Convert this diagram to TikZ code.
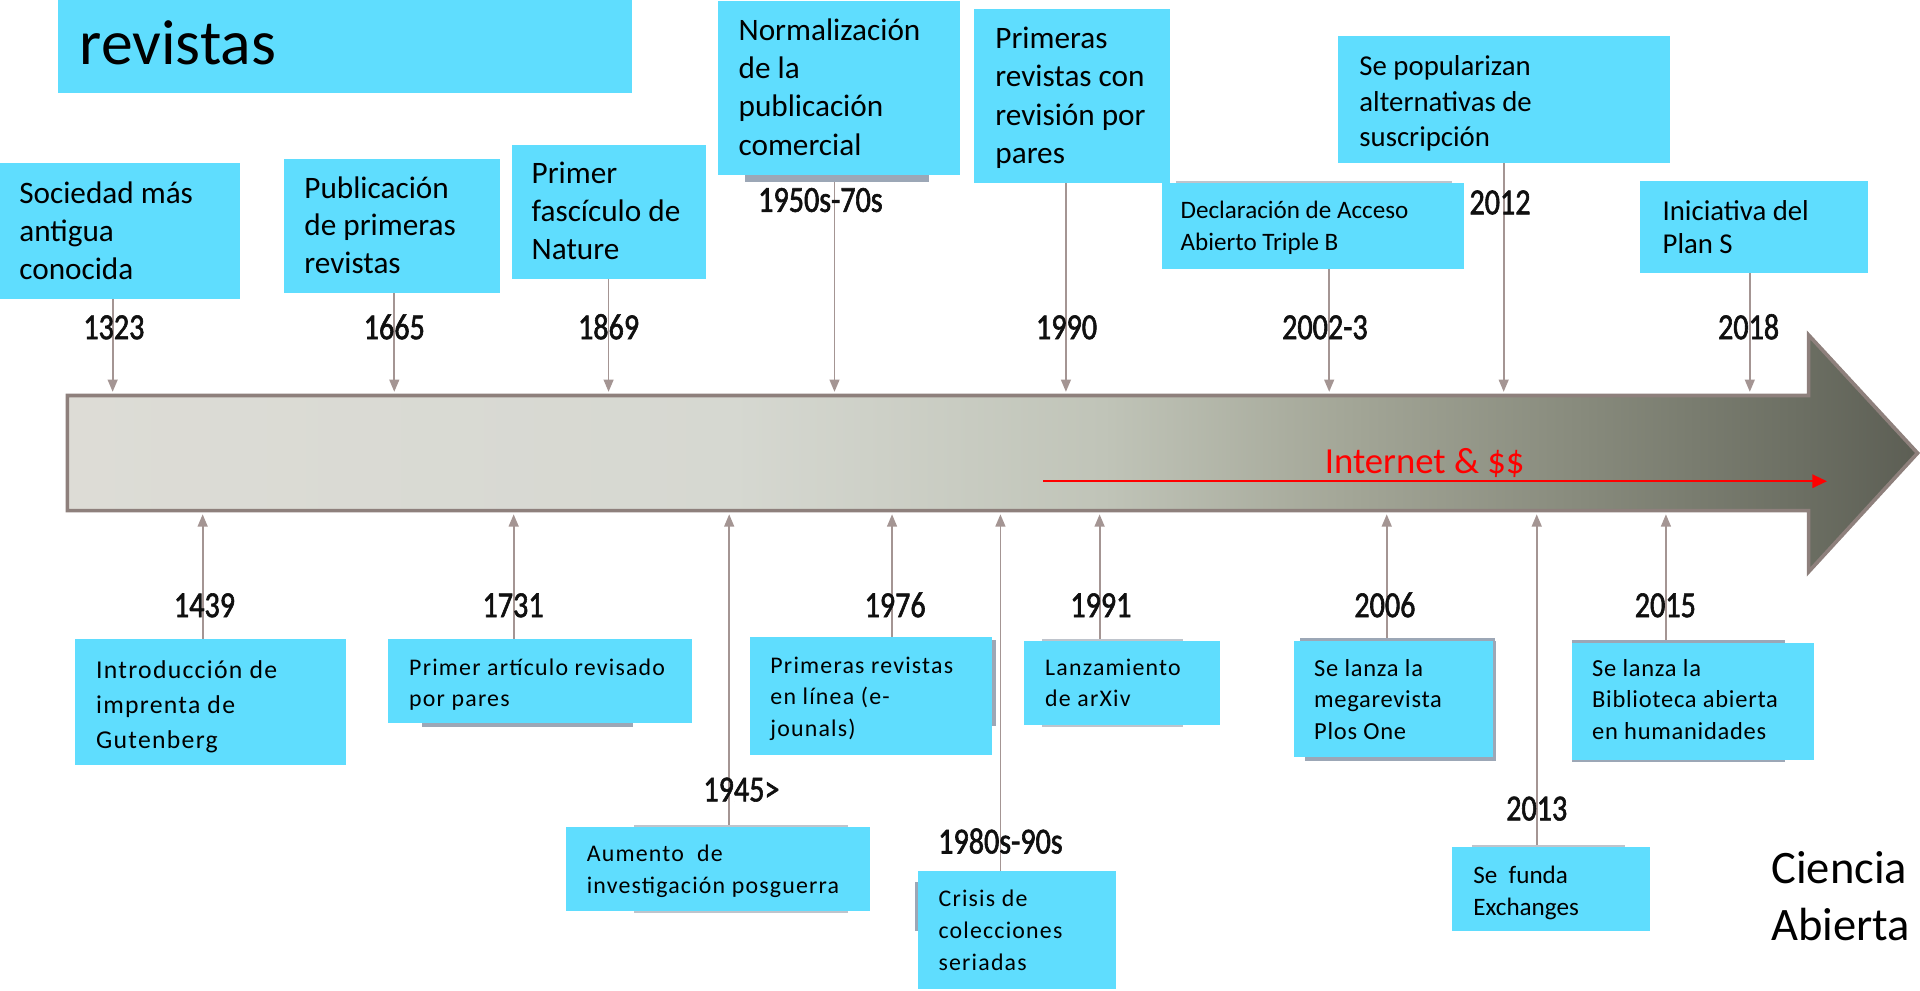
\documentclass[tikz,border=0pt]{standalone}
\usepackage{fontspec}
\setmainfont{Carlito}
\newfontfamily\yearfont[FakeStretch=0.82,FakeBold=1.6]{Carlito}
\newfontfamily\spfont[LetterSpace=5]{Carlito}
\newfontfamily\spfontb[LetterSpace=3]{Carlito}
\usetikzlibrary{arrows.meta,fit}
\definecolor{cy}{HTML}{5FDDFE}
\definecolor{connc}{HTML}{A49593}
\definecolor{shd}{HTML}{9CA7B6}
\definecolor{shdl}{HTML}{BFC4CC}
\definecolor{bord}{HTML}{8E807C}
\definecolor{yk}{HTML}{101010}
\definecolor{g0}{HTML}{DDDCD6}
\definecolor{g1}{HTML}{D6D8D1}
\definecolor{g2}{HTML}{C0C4B8}
\definecolor{g3}{HTML}{A3A697}
\definecolor{g4}{HTML}{878A7C}
\definecolor{g5}{HTML}{6C6F63}
\definecolor{g6}{HTML}{5C5E54}
\pgfdeclarehorizontalshading{tl}{100bp}{color(0bp)=(g0); color(25bp)=(g0); color(43bp)=(g1); color(53bp)=(g2); color(59.6bp)=(g3); color(66bp)=(g4); color(71.8bp)=(g5); color(75bp)=(g6); color(100bp)=(g6)}
\newcommand{\bt}[3]{\fontsize{#1}{#2}\selectfont\begin{tabular}[t]{@{}l@{}}#3\end{tabular}}
\tikzset{
  cbox/.style={fill=cy, inner sep=0pt, draw=none},
  sbar/.style={fill=shd, draw=none},
  sbarl/.style={fill=shdl, draw=none},
  bt/.style={anchor=base west, inner sep=0pt, text=black},
  yl/.style={anchor=base, inner sep=0pt, text=yk, font=\yearfont\fontsize{30}{36}\selectfont},
  connl/.style={draw=connc, line width=1.5pt, -{Triangle[length=10pt,width=8pt]}},
}
\begin{document}
\begin{tikzpicture}[x=1pt,y=-1pt]
\useasboundingbox (0,0) rectangle (1568,809.3);

% main timeline arrow
\shade[shading=tl, draw=bord, line width=3pt, line join=miter]
  (55,323) -- (1477,323) -- (1477,273.6) -- (1566,370) -- (1477,467) -- (1477,417) -- (55,417) -- cycle;

% arrow tips on the timeline
\coordinate (c1323) at (92,320);
\coordinate (c1665) at (322,320);
\coordinate (c1869) at (497,320);
\coordinate (c1950) at (681.5,320);
\coordinate (c1990) at (870.5,320);
\coordinate (c2002) at (1085.5,320);
\coordinate (c2012) at (1228,320);
\coordinate (c2018) at (1429,320);
\coordinate (c1439) at (165.5,420);
\coordinate (c1731) at (419.5,420);
\coordinate (c1945) at (595.5,420);
\coordinate (c1976) at (728.5,420);
\coordinate (c1980) at (817,420);
\coordinate (c1991) at (898,420);
\coordinate (c2006) at (1132.5,420);
\coordinate (c2013) at (1255,420);
\coordinate (c2015) at (1360.5,420);

% boxes
\node[fit={(47.5,0) (516,75.7)}, cbox] (title) {};
\node[fit={(0,133) (196,244)}, cbox] (soc) {};
\node[fit={(232,130) (408,239)}, cbox] (pub) {};
\node[fit={(418,118.4) (576.4,227.3)}, cbox] (nat) {};
\node[fit={(586.4,1) (784,142.6)}, cbox] (nor) {};
\node[fit={(795.3,7.3) (955.5,149.2)}, cbox] (rev) {};
\node[fit={(949,149.5) (1195.3,219.4)}, cbox] (dec) {};
\node[fit={(1092.8,30) (1363.7,133)}, cbox] (sus) {};
\node[fit={(1339.5,147.8) (1525.2,222.7)}, cbox] (pls) {};

\node[fit={(61.7,521.9) (282.3,624.3)}, cbox] (gut) {};
\node[fit={(317.3,521.9) (565,590.2)}, cbox] (art) {};
\node[fit={(612.5,520.6) (810,616)}, cbox] (lin) {};
\node[fit={(462.3,675.7) (710.2,743.8)}, cbox] (aum) {};
\node[fit={(749.7,711.4) (911,807.2)}, cbox] (cri) {};
\node[fit={(836.3,523.5) (995.9,591.6)}, cbox] (arx) {};
\node[fit={(1056.7,523.5) (1218.8,618)}, cbox] (plo) {};
\node[fit={(1283.8,524.9) (1481.4,620.2)}, cbox] (bib) {};
\node[fit={(1185.8,691.8) (1347.4,760)}, cbox] (exc) {};

% connectors
\draw[connl] (soc.south -| c1323) -- (c1323);
\draw[connl] (pub.south -| c1665) -- (c1665);
\draw[connl] (nat.south -| c1869) -- (c1869);
\draw[connl] (nor.south -| c1950) -- (c1950);
\draw[connl] (rev.south -| c1990) -- (c1990);
\draw[connl] (dec.south -| c2002) -- (c2002);
\draw[connl] (sus.south -| c2012) -- (c2012);
\draw[connl] (pls.south -| c2018) -- (c2018);
\draw[connl] (gut.north -| c1439) -- (c1439);
\draw[connl] (art.north -| c1731) -- (c1731);
\draw[connl] (aum.north -| c1945) -- (c1945);
\draw[connl] (lin.north -| c1976) -- (c1976);
\draw[connl] (cri.north -| c1980) -- (c1980);
\draw[connl] (arx.north -| c1991) -- (c1991);
\draw[connl] (plo.north -| c2006) -- (c2006);
\draw[connl] (exc.north -| c2013) -- (c2013);
\draw[connl] (bib.north -| c2015) -- (c2015);

% shadow bars
\fill[sbar] (608,142.6) rectangle (759,148.3);
\fill[sbarl] (960,147.5) rectangle (1186,149.5);
\fill[sbar] (345,590.2) rectangle (516.7,593.5);
\fill[sbar] (810,522.7) rectangle (813,593);
\fill[sbarl] (851,521.5) rectangle (966,523.5);
\fill[sbarl] (851,591.6) rectangle (966,593.5);
\fill[sbar] (1062,521) rectangle (1221,523.5);
\fill[sbar] (1218.8,523.5) rectangle (1221.8,621.5);
\fill[sbar] (1066,618) rectangle (1221.8,621.5);
\fill[sbar] (1284,522.5) rectangle (1458,524.9);
\fill[sbar] (1284,620.2) rectangle (1458,622.5);
\fill[sbarl] (517.7,674) rectangle (692.7,675.7);
\fill[sbarl] (517.7,743.8) rectangle (692.7,745.5);
\fill[sbar] (747.5,720) rectangle (749.7,760);
\fill[sbarl] (1202,690) rectangle (1327,691.8);

% redraw boxes on top of lines
\foreach \b in {title,soc,pub,nat,nor,rev,dec,sus,pls,gut,art,lin,aum,cri,arx,plo,bib,exc}
  \fill[cy] (\b.north west) rectangle (\b.south east);

% box texts
\node[bt] (titleT) at (65,53) {\fontsize{52}{60}\selectfont revistas};
\node[bt] (socT) at (15.6,166) {\bt{25.5}{31}{Sociedad más\\antigua\\conocida}};
\node[bt] (pubT) at (248.4,162) {\bt{25.5}{30.5}{Publicación\\de primeras\\revistas}};
\node[bt] (natT) at (434,149.7) {\bt{25.5}{31.3}{Primer\\fascículo de\\Nature}};
\node[bt] (norT) at (603,32.7) {\bt{25.5}{31.3}{Normalización\\de la\\publicación\\comercial}};
\node[bt] (revT) at (812.7,39.5) {\bt{25.5}{31.3}{Primeras\\revistas con\\revisión por\\pares}};
\node[bt] (decT) at (964,178.3) {\bt{20.5}{26}{Declaración de Acceso\\Abierto Triple B}};
\node[bt] (susT) at (1110,62) {\bt{23.5}{29}{Se popularizan\\alternativas de\\suscripción}};
\node[bt] (plsT) at (1357.6,179.7) {\bt{23.5}{27.2}{Iniciativa del\\Plan S}};

\node[bt] (gutT) at (78.3,554) {\spfont\bt{21}{28.6}{Introducción de\\imprenta de\\Gutenberg}};
\node[bt] (artT) at (334,551.3) {\spfont\bt{19.5}{25.9}{Primer artículo revisado\\por pares}};
\node[bt] (linT) at (629,549.7) {\spfont\bt{19.5}{25.8}{Primeras revistas\\en línea (e-\\jounals)}};
\node[bt] (aumT) at (479,703.8) {\spfont\bt{19.5}{26.2}{Aumento\ \ de\\investigación posguerra}};
\node[bt] (criT) at (766.3,740.5) {\spfont\bt{19.5}{25.9}{Crisis de\\colecciones\\seriadas}};
\node[bt] (arxT) at (853.4,551.3) {\spfont\bt{19.5}{25.9}{Lanzamiento\\de arXiv}};
\node[bt] (ploT) at (1073,552.1) {\spfontb\bt{20}{25.8}{Se lanza la\\megarevista\\Plos One}};
\node[bt] (bibT) at (1300,552.1) {\spfontb\bt{20}{25.8}{Se lanza la\\Biblioteca abierta\\en humanidades}};
\node[bt] (excT) at (1203,721.4) {\bt{20.5}{25.9}{Se\ \ funda\\Exchanges}};
\node[bt] (ca) at (1446.5,721.4) {\bt{38}{46.3}{Ciencia\\Abierta}};

% year labels
\node[yl] (y1323) at (93,277) {1323};
\node[yl] (y1665) at (322,277) {1665};
\node[yl] (y1869) at (497,277) {1869};
\node[yl] (y1990) at (871,277) {1990};
\node[yl] (y2002) at (1082,277) {2002-3};
\node[yl] (y2018) at (1428,277) {2018};
\node[yl] (y1950) at (670,173) {1950s-70s};
\node[yl] (y2012) at (1225,175) {2012};
\node[yl] (y1439) at (167,504) {1439};
\node[yl] (y1731) at (419,504) {1731};
\node[yl] (y1976) at (731,504) {1976};
\node[yl] (y1991) at (899,504) {1991};
\node[yl] (y2006) at (1131,504) {2006};
\node[yl] (y2015) at (1360,504) {2015};
\node[yl] (y1945) at (605.5,654.5) {1945>};
\node[yl] (y1980) at (817,697) {1980s-90s};
\node[yl] (y2013) at (1255,670) {2013};

% internet arrow
\coordinate (rs) at (852,393);
\coordinate (re) at (1492,393);
\draw[red, line width=1.5pt, -{Triangle[length=12pt,width=11pt]}] (rs) -- (re);
\node[anchor=base, inner sep=0pt, text=red, font=\fontsize{30}{36}\selectfont] (inet) at (1163.5,387) {Internet \& \$\$};
\end{tikzpicture}
\end{document}
